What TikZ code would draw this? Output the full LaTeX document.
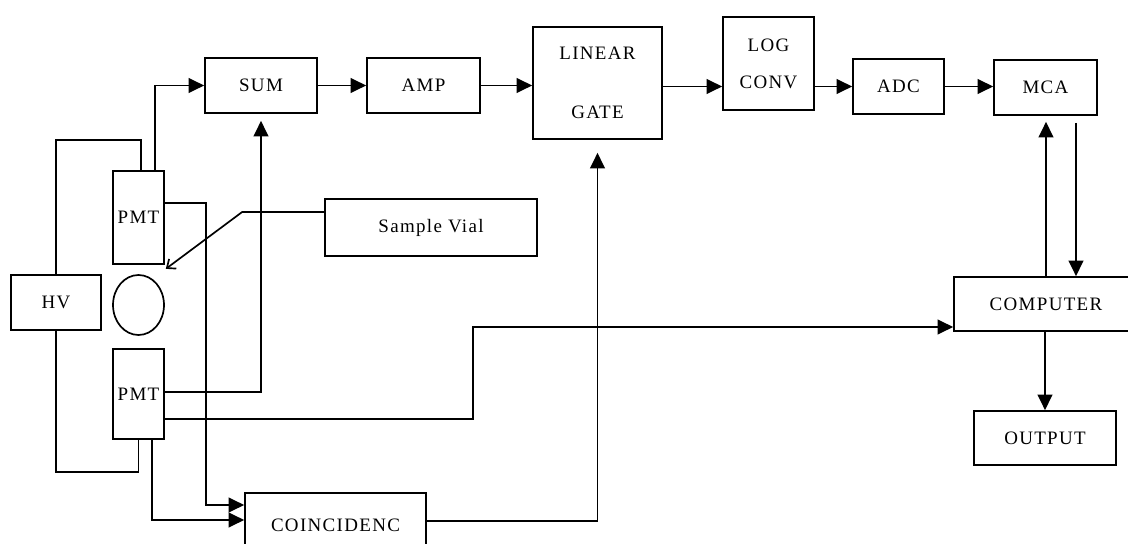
\documentclass[tikz,border=0pt]{standalone}
\usepackage{fontspec}
\setmainfont{Liberation Serif}[LetterSpace=7]
\usepackage{tikz}
\usetikzlibrary{arrows.meta,calc,positioning,shapes.geometric}
\tikzset{
  wire/.style={black, line width=1.2pt},
  flow/.style={wire, -{Triangle[length=3.9mm,width=3.7mm]}},
  pointer/.style={wire, -{Straight Barb[length=1.8mm,width=3mm]}},
  block/.style={draw=black, line width=1.2pt, inner sep=0pt,
                align=center, font=\fontsize{13.5pt}{16pt}\selectfont},
  tube/.style={block, minimum width=12.75mm},
  cell/.style={draw=black, line width=1.2pt, ellipse, inner sep=0pt,
               minimum width=12.75mm, minimum height=15mm},
}

\begin{document}
\begin{tikzpicture}[x=0.25mm,y=-0.25mm]
  \path[use as bounding box] (0,0) rectangle (1128,544);

  % signal chain along the top
  \node[block, minimum width=28mm, minimum height=13.75mm] (SUM) at (261,85.5) {SUM};
  \node[block, minimum width=28.25mm, minimum height=13.75mm] (AMP) at (423.5,85.5) {AMP};
  \node[block, minimum width=32.25mm, minimum height=28mm] (GATE) at (597.5,83)
    {LINEAR\\[9mm]GATE};
  \node[block, minimum width=22.75mm, minimum height=23.25mm] (LOG) at (768.5,63.5)
    {LOG\\[3.6mm]CONV};
  \node[block, minimum width=22.75mm, minimum height=13.75mm] (ADC) at (898.5,86.5) {ADC};
  \node[block, minimum width=25.75mm, minimum height=13.75mm] (MCA) at (1045.5,87.5) {MCA};
  \node[block, minimum width=46mm, minimum height=13.5mm] (COMPUTER) at (1046,304) {COMPUTER};
  \node[block, minimum width=35.5mm, minimum height=13.5mm] (OUTPUT) at (1045,438) {OUTPUT};

  % detector head
  \node[block, minimum width=22.5mm, minimum height=13.75mm] (HV) at (56,302.5) {HV};
  \node[tube, minimum height=23.25mm] (PMT1) at (138.5,217.5) {PMT};
  \node[cell] (CELL) at (138.5,305) {};
  \node[tube, minimum height=22.5mm] (PMT2) at (138.5,394) {PMT};
  \node[block, minimum width=53mm, minimum height=14.25mm] (VIAL) at (431,227.5) {Sample Vial};
  \node[block, minimum width=45.25mm, minimum height=16mm] (COINC) at (335.5,525) {COINCIDENC};

  % high voltage supply
  \draw[wire] (HV.north) -- ++(0,-134) -| ($(PMT1.north)+(2.5,0)$);
  \draw[wire] (HV.south) -- ++(0,141) -| (PMT2.south);

  % top row
  \draw[flow] ($(PMT1.north)+(16.5,0)$) |- (SUM.west);
  \draw[flow] (SUM.east) -- (AMP.west);
  \draw[flow] (AMP.east) -- (AMP.east -| GATE.west);
  \draw[flow] (GATE.east |- ADC.west) -- (LOG.west |- ADC.west);
  \draw[flow] (LOG.east |- ADC.west) -- (ADC.west);
  \draw[flow] (ADC.east) -- (ADC.east -| MCA.west);

  % computer and output
  \coordinate (mcaout) at ($(MCA.south)+(30.5,0)$);
  \draw[flow, shorten >=1.5mm] (COMPUTER.north) -- (COMPUTER.north |- MCA.south);
  \draw[flow, shorten <=1.75mm] (mcaout) -- (mcaout |- COMPUTER.north);
  \draw[flow] (COMPUTER.south -| OUTPUT.north) -- (OUTPUT.north);

  % coincidence and sum inputs
  \draw[flow] ($(PMT1.east)+(0,-14.5)$) -- ++(41,0) |- ($(COINC.west)+(0,-20)$);
  \draw[flow] ($(PMT2.south)+(13.5,0)$) |- ($(COINC.west)+(0,-5)$);
  \draw[flow, shorten >=1.75mm] ($(PMT2.east)+(0,-2)$) -| (SUM.south);
  \draw[flow] ($(PMT2.east)+(0,25)$) -- ++(308,0) |- ($(COMPUTER.west)+(0,23)$);
  \draw[flow, shorten >=3.25mm] ($(COINC.east)+(0,-4)$) -| (GATE.south);

  % sample vial pointer
  \coordinate (tip) at ($(PMT1.south east)+(1,4)$);
  \draw[pointer] ($(VIAL.west)+(0,-15.5)$) -- ++(-82,0) -- (tip);
\end{tikzpicture}
\end{document}
